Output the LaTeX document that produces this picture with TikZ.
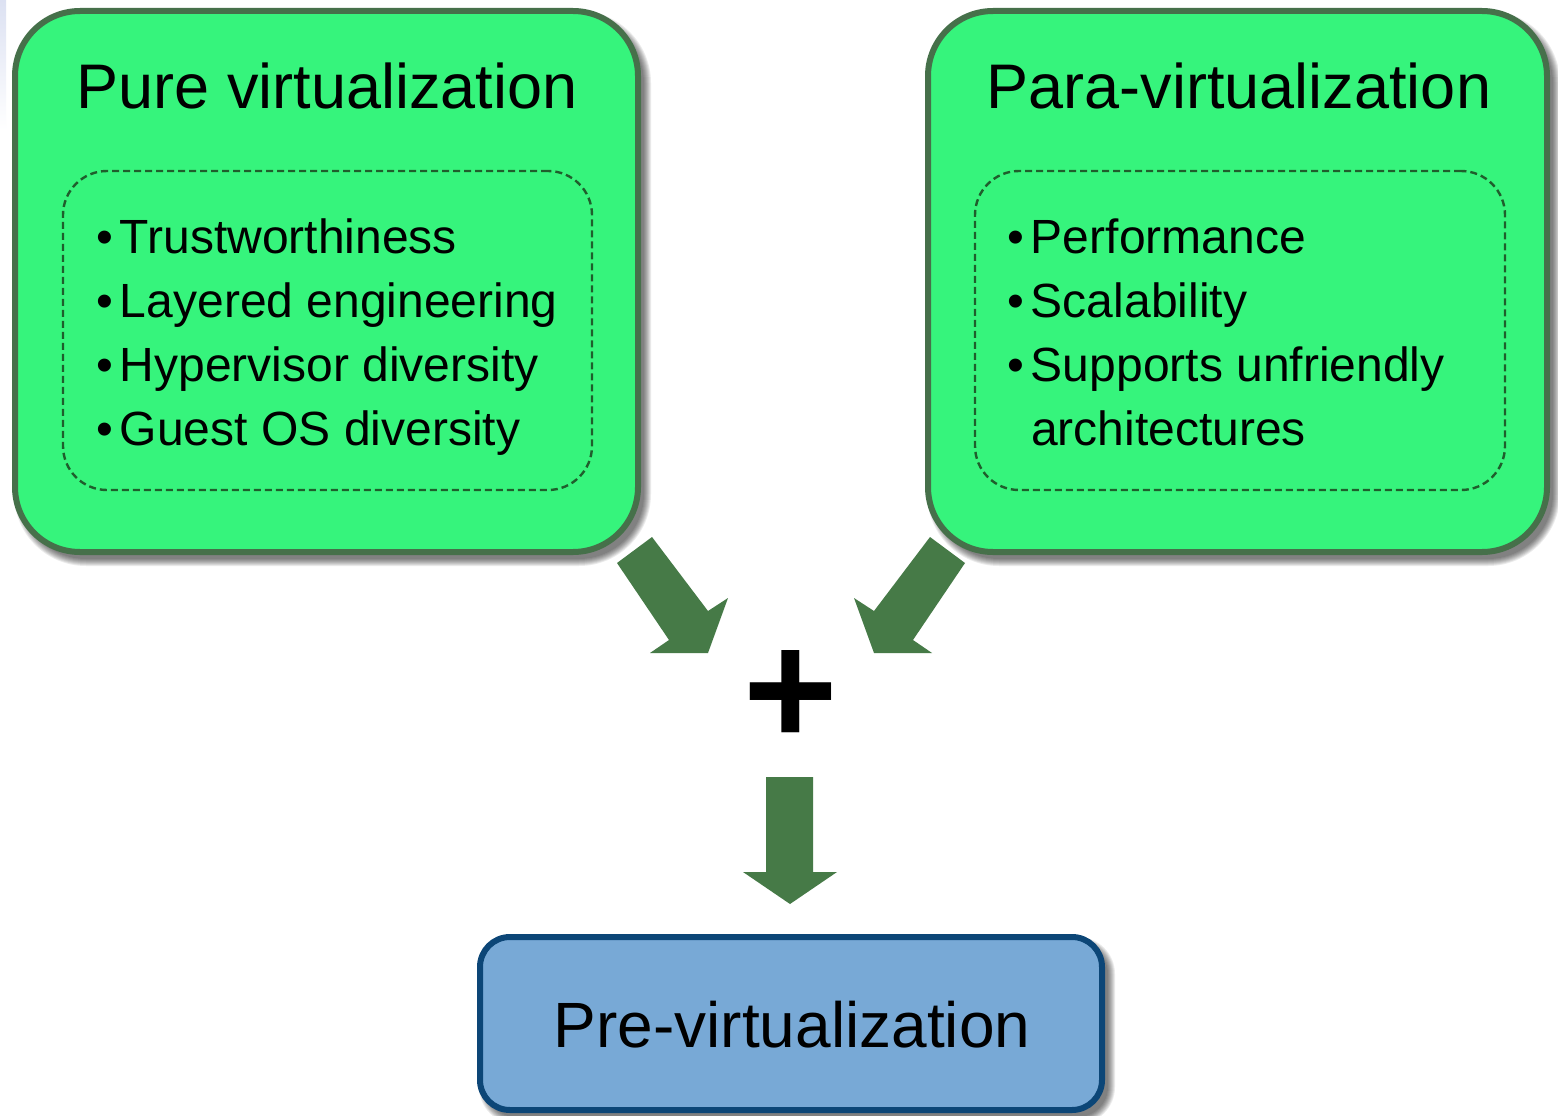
\documentclass[tikz,border=0pt]{standalone}
\usepackage{fontspec}
\setmainfont{Liberation Sans}
\definecolor{boxfill}{HTML}{36F47C}
\definecolor{boxedge}{HTML}{46704A}
\definecolor{dashcol}{HTML}{1F5E2C}
\definecolor{arrowcol}{HTML}{467A47}
\definecolor{prefill}{HTML}{78A9D6}
\definecolor{preedge}{HTML}{0C4677}
\definecolor{edgestrip}{HTML}{DCE1F2}
% soft shadow behind a rounded box: corners (#1,#2)-(#3,#4), radius #5
\newcommand\softshadow[5]{%
  \foreach \e in {0,...,7}{%
    \pgfmathsetmacro\rr{#5+\e}%
    \fill[black, opacity=0.08, rounded corners=\rr pt]
      (#1+6-\e,#2+7-\e) rectangle (#3+6+\e,#4+7+\e);
  }}
% bullet followed by a small gap
\newcommand\bul{•\hspace{7pt}}
\begin{document}
\begin{tikzpicture}[x=1pt,y=-1pt,
  greenbox/.style={draw=boxedge, line width=6pt, fill=boxfill,
    rounded corners=65pt, inner sep=0pt},
  dashbox/.style={draw=dashcol, line width=2.4pt, dash pattern=on 7pt off 4pt,
    rounded corners=44pt, inner sep=0pt},
  bluebox/.style={draw=preedge, line width=6pt, fill=prefill,
    rounded corners=30pt, inner sep=0pt},
  boxtitle/.style={anchor=base, inner sep=0pt, font=\fontsize{63}{75}\selectfont},
  itemtext/.style={anchor=base west, inner sep=0pt, font=\fontsize{48}{64}\selectfont},
  blockarrow/.style={fill=arrowcol}]
\useasboundingbox (0,0) rectangle (1558,1116);
\fill[white] (0,0) rectangle (1558,1116);
\shade[top color=edgestrip, bottom color=white] (0,0) rectangle (6,130);

% shadows
\softshadow{15}{11}{638}{552}{65}
\softshadow{928}{11}{1547}{552}{65}
\softshadow{480}{937}{1102}{1110}{30}

% the two source boxes
\node[greenbox, minimum width=623pt, minimum height=541pt] (pure) at (326.5,281.5) {};
\node[greenbox, minimum width=619pt, minimum height=541pt] (para) at (1237.5,281.5) {};
\node[dashbox, minimum width=529pt, minimum height=319pt] (purelist) at (327.5,330.5) {};
\node[dashbox, minimum width=530pt, minimum height=319pt] (paralist) at (1240,330.5) {};

\node[boxtitle] (puretitle) at (327,108) {Pure virtualization};
\node[boxtitle] (paratitle) at (1239,108) {Para-virtualization};

\node[itemtext] (pure1) at (96,253) {\bul Trustworthiness};
\node[itemtext] (pure2) at (96,317) {\bul Layered engineering};
\node[itemtext] (pure3) at (96,381) {\bul Hypervisor diversity};
\node[itemtext] (pure4) at (96,445) {\bul Guest OS diversity};

\node[itemtext] (para1) at (1007,253) {\bul Performance};
\node[itemtext] (para2) at (1007,317) {\bul Scalability};
\node[itemtext] (para3) at (1007,381) {\bul Supports unfriendly};
\node[itemtext] (para4) at (1007,445) {\hphantom{\bul}architectures};

% combining arrows and the plus sign
\fill[blockarrow] (617,563) -- (652,537) -- (708,611) -- (728,598)
  -- (708,653) -- (650,653) -- (669,640) -- cycle;
\fill[blockarrow] (965,563) -- (930,537) -- (874,611) -- (854,598)
  -- (874,653) -- (932,653) -- (913,640) -- cycle;
\node[inner sep=0pt, font=\fontsize{162}{162}\selectfont\bfseries] (plus) at (791,698) {+};
\fill[blockarrow] (766,777) -- (813,777) -- (813,872) -- (837,872)
  -- (790,904) -- (743,872) -- (766,872) -- cycle;

% result box
\node[bluebox, minimum width=622pt, minimum height=173pt] (pre) at (791,1023.5) {};
\node[anchor=base, inner sep=0pt, font=\fontsize{64}{76}\selectfont] (pretitle) at (792,1047) {Pre-virtualization};
\end{tikzpicture}
\end{document}
